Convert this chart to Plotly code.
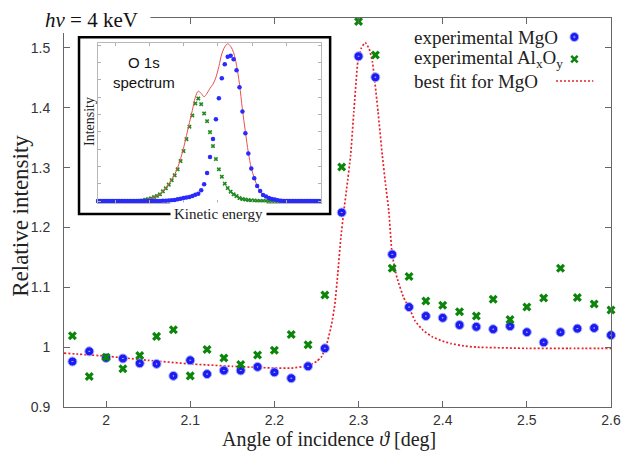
import plotly.graph_objects as go

# ---------------- data ----------------
angles = [1.96, 1.98, 2.00, 2.02, 2.04, 2.06, 2.08, 2.10, 2.12, 2.14, 2.16,
          2.18, 2.20, 2.22, 2.24, 2.26, 2.28, 2.30, 2.32, 2.34, 2.36, 2.38,
          2.40, 2.42, 2.44, 2.46, 2.48, 2.50, 2.52, 2.54, 2.56, 2.58, 2.60]
mgo = [0.976, 0.993, 0.982, 0.981, 0.973, 0.972, 0.952, 0.978, 0.955, 0.961,
       0.961, 0.967, 0.958, 0.948, 0.968, 0.998, 1.225, 1.486, 1.451, 1.155,
       1.067, 1.052, 1.049, 1.037, 1.034, 1.030, 1.035, 1.025, 1.008, 1.025,
       1.031, 1.032, 1.020]
alxoy = [1.019, 0.951, 0.983, 0.964, 0.986, 1.018, 1.029, 0.952, 0.996, 0.982,
         0.971, 0.987, 0.995, 1.021, 1.004, 1.087, 1.301, 1.544, 1.488, 1.132,
         1.118, 1.077, 1.070, 1.059, 1.052, 1.080, 1.046, 1.067, 1.082, 1.132,
         1.083, 1.072, 1.062]

fit_angles = [1.95, 2.00, 2.05, 2.10, 2.15, 2.20, 2.22, 2.24, 2.25,
              2.2556, 2.2603, 2.2634, 2.2681, 2.2719, 2.2754, 2.2789, 2.2824, 2.2859,
              2.2906, 2.2944, 2.2991, 2.3034, 2.3080, 2.3127, 2.3166,
              2.3232, 2.3282, 2.3322, 2.3360, 2.3399, 2.3457, 2.3535, 2.3601, 2.3671, 2.3768,
              2.388, 2.40, 2.41, 2.425, 2.44, 2.50, 2.55, 2.60]
fit_values = [0.990, 0.985, 0.978, 0.972, 0.968, 0.965, 0.965, 0.969, 0.976,
              0.983, 0.997, 1.011, 1.039, 1.072, 1.124, 1.182, 1.226, 1.265,
              1.321, 1.393, 1.476, 1.500, 1.509, 1.498, 1.476,
              1.393, 1.321, 1.271, 1.227, 1.155, 1.116, 1.083, 1.066, 1.044, 1.028,
              1.017, 1.010, 1.006, 1.002, 1.000, 0.998, 0.998, 0.998]

x_tickvals = [2.0, 2.1, 2.2, 2.3, 2.4, 2.5, 2.6]
x_ticktext = ["2", "2.1", "2.2", "2.3", "2.4", "2.5", "2.6"]
y_tickvals = [0.9, 1.0, 1.1, 1.2, 1.3, 1.4, 1.5]
y_ticktext = ["0.9", "1", "1.1", "1.2", "1.3", "1.4", "1.5"]

# inset: O 1s spectrum (arbitrary kinetic-energy grid, arbitrary intensity)
inset_energy = list(range(0, 226, 3))
inset_green = [0] * 12 + [
    0, 0.1, 0.2, 0.5, 1.3, 2.0, 2.7, 3.9, 5.1, 6.7,
    9.7, 12.7, 16.4, 20.9, 25.7, 31.7, 40, 50, 62, 74.4,
    85.7, 97.7, 102.7, 97, 87.7, 80, 69, 55, 42, 31.7,
    24.4, 17.4, 13, 9.3, 6.7, 4.9, 3.0, 2.0, 1.4, 1.0,
    0.6, 0.4, 0.2, 0.1] + [0] * 20
inset_blue = [0] * 20 + [
    0, 0.1, 0.2, 0.3, 0.5, 0.8, 1.1, 1.7, 2.3, 2.9,
    3.5, 4.1, 5.1, 6.2, 7.3, 10.8, 16.8, 28, 44, 62,
    82, 103, 123, 137, 144.5, 145.5, 142, 131, 114, 89.6,
    68, 47.7, 32.5, 22.8, 15.1, 10, 6, 4.5, 3.0, 2.1,
    1.4, 0.7, 0.3, 0.1] + [0] * 12
inset_fit = [0] * 12 + [
    0, 0.1, 0.2, 0.5, 1.3, 2.0, 2.7, 3.9,
    5.1, 6.8, 9.9, 13.0, 16.9, 21.7, 26.8, 33.4, 42.3, 52.9,
    65.5, 78.5, 90.8, 103.9, 110.0, 107.8, 104.5, 108, 113, 117,
    124, 134.7, 147.4, 154.4, 157.5, 154.8, 148.7, 135.9, 117, 91.6,
    69.4, 48.7, 33.1, 23.2, 15.3, 10.1, 6, 4.5, 3.0, 2.1,
    1.4, 0.7, 0.3, 0.1] + [0] * 12

# ---------------- geometry helpers (pixels -> paper) ----------------
W, H = 631, 452
ML, MR, MT, MB = 64, 10, 18, 45
PW, PH = W - ML - MR, H - MT - MB


def px(x):
    return (x - ML) / PW


def py(y):
    return (H - MB - y) / PH


SERIF = "Liberation Serif, Times New Roman, serif"
SANS = "Liberation Sans, Arial, sans-serif"
BLUE = "#1c1cf0"
GREEN = "#0b860b"
RED = "#e8202a"

fig = go.Figure()

# main plot
fig.add_trace(go.Scatter(x=fit_angles, y=fit_values, mode="lines",
                         line=dict(color=RED, width=1.7, dash="2px,2px",
                                   shape="spline", smoothing=0.4),
                         cliponaxis=False, showlegend=False))
fig.add_trace(go.Scatter(x=angles, y=mgo, mode="markers",
                         marker=dict(symbol="circle-dot", size=9, color=BLUE,
                                     line=dict(color="#a8b0ff", width=1)),
                         cliponaxis=False, showlegend=False))
fig.add_trace(go.Scatter(x=angles, y=alxoy, mode="markers",
                         marker=dict(symbol="x", size=8, color=GREEN,
                                     line=dict(width=0)),
                         cliponaxis=False, showlegend=False))

# inset
fig.add_trace(go.Scatter(x=inset_energy, y=inset_green, mode="markers",
                         marker=dict(symbol="x", size=4, color="#1f8a1f",
                                     line=dict(width=0)),
                         xaxis="x2", yaxis="y2", cliponaxis=False, showlegend=False))
fig.add_trace(go.Scatter(x=inset_energy, y=inset_fit, mode="lines",
                         line=dict(color="#e85050", width=1, shape="spline"),
                         xaxis="x2", yaxis="y2", cliponaxis=False, showlegend=False))
fig.add_trace(go.Scatter(x=inset_energy, y=inset_blue, mode="markers",
                         marker=dict(symbol="circle", size=4.5, color="#2a2aff",
                                     line=dict(width=0)),
                         xaxis="x2", yaxis="y2", cliponaxis=False, showlegend=False))

axis_common = dict(showline=True, linecolor="#666", linewidth=1, mirror="ticks",
                   ticks="inside", ticklen=6, tickcolor="#666", showgrid=False,
                   zeroline=False, tickfont=dict(family=SANS, size=14, color="#333"))

inset_axis = dict(showline=True, linecolor="#b8b8b8", linewidth=1, mirror="ticks",
                  ticks="inside", ticklen=3, tickcolor="#b0b0b0", showgrid=False,
                  zeroline=False, showticklabels=False)

fig.update_layout(
    width=W, height=H,
    margin=dict(l=ML, r=MR, t=MT, b=MB, pad=0),
    paper_bgcolor="white", plot_bgcolor="rgba(0,0,0,0)",
    showlegend=False,
    xaxis=dict(range=[1.95, 2.6], tickvals=x_tickvals, ticktext=x_ticktext,
               ticklabelstandoff=0, **axis_common),
    yaxis=dict(range=[0.9, 1.55], tickvals=y_tickvals, ticktext=y_ticktext,
               ticklabelstandoff=10, **axis_common),
    xaxis2=dict(domain=[px(98.7), px(325.7)], anchor="y2", range=[0, 227],
                tickvals=[18 + 34.7 * k for k in range(7)], **inset_axis),
    yaxis2=dict(domain=[py(203.3), py(43.3)], anchor="x2", range=[-2.3, 158],
                tickvals=[17.35 * k for k in range(10)], **inset_axis),
)

shapes = [
    # inset frame
    dict(type="rect", xref="paper", yref="paper", x0=px(79.3), x1=px(335),
         y0=py(214), y1=py(37.3), line=dict(color="black", width=2.5),
         fillcolor="white", layer="below"),
    # white box behind the title (cuts the frame at top-left)
    dict(type="rect", xref="paper", yref="paper", x0=px(0), x1=px(152),
         y0=py(33), y1=py(0), line=dict(width=0), fillcolor="white", layer="above"),
    # legend symbols
    dict(type="circle", xref="paper", yref="paper", x0=px(579.2), x1=px(588.2),
         y0=py(41.5), y1=py(32.5), fillcolor=BLUE, line=dict(color="#a8b0ff", width=1),
         layer="above"),
    dict(type="circle", xref="paper", yref="paper", x0=px(582.9), x1=px(584.5),
         y0=py(37.8), y1=py(36.2), fillcolor=BLUE, line=dict(color="#a8b0ff", width=0.8),
         layer="above"),
    dict(type="path", xref="paper", yref="paper",
         path=f"M {px(580.5)},{py(55.8)} L {px(587)},{py(62.3)} M {px(580.5)},{py(62.3)} L {px(587)},{py(55.8)}",
         line=dict(color=GREEN, width=2.6), layer="above"),
    dict(type="line", xref="paper", yref="paper", x0=px(565), x1=px(603),
         y0=py(81), y1=py(81), line=dict(color=RED, width=1.7, dash="2px,2px"),
         layer="above"),
]
fig.update_layout(shapes=shapes)

annotations = [
    dict(text="<i>hν</i> = 4 keV", x=px(92), y=py(20),
         font=dict(family=SERIF, size=21, color="#111")),
    dict(text="experimental MgO", x=px(418), y=py(37), xanchor="left",
         font=dict(family=SERIF, size=19, color="#222")),
    dict(text="experimental Al<sub>x</sub>O<sub>y</sub>", x=px(418), y=py(59), xanchor="left",
         font=dict(family=SERIF, size=19, color="#222")),
    dict(text="best fit for MgO", x=px(418), y=py(81), xanchor="left",
         font=dict(family=SERIF, size=19, color="#222")),
    dict(text="O 1s<br>spectrum", x=px(145), y=py(73),
         font=dict(family=SANS, size=15, color="#111")),
    dict(text="Intensity", x=px(90.5), y=py(122), textangle=-90,
         font=dict(family=SERIF, size=14, color="#222")),
    dict(text="Kinetic energy", x=px(221), y=py(213.5), bgcolor="white", borderpad=3,
         font=dict(family=SERIF, size=15, color="#222")),
    dict(text="Angle of incidence <i>ϑ</i> [deg]", x=px(334), y=py(439.5),
         font=dict(family=SERIF, size=20, color="#222")),
    dict(text="Relative intensity", x=px(20), y=py(216), textangle=-90,
         font=dict(family=SERIF, size=23, color="#222")),
]
for a in annotations:
    a.setdefault("xanchor", "center")
    a.update(xref="paper", yref="paper", showarrow=False, yanchor="middle")
fig.update_layout(annotations=annotations)

fig.write_html("out.html")
